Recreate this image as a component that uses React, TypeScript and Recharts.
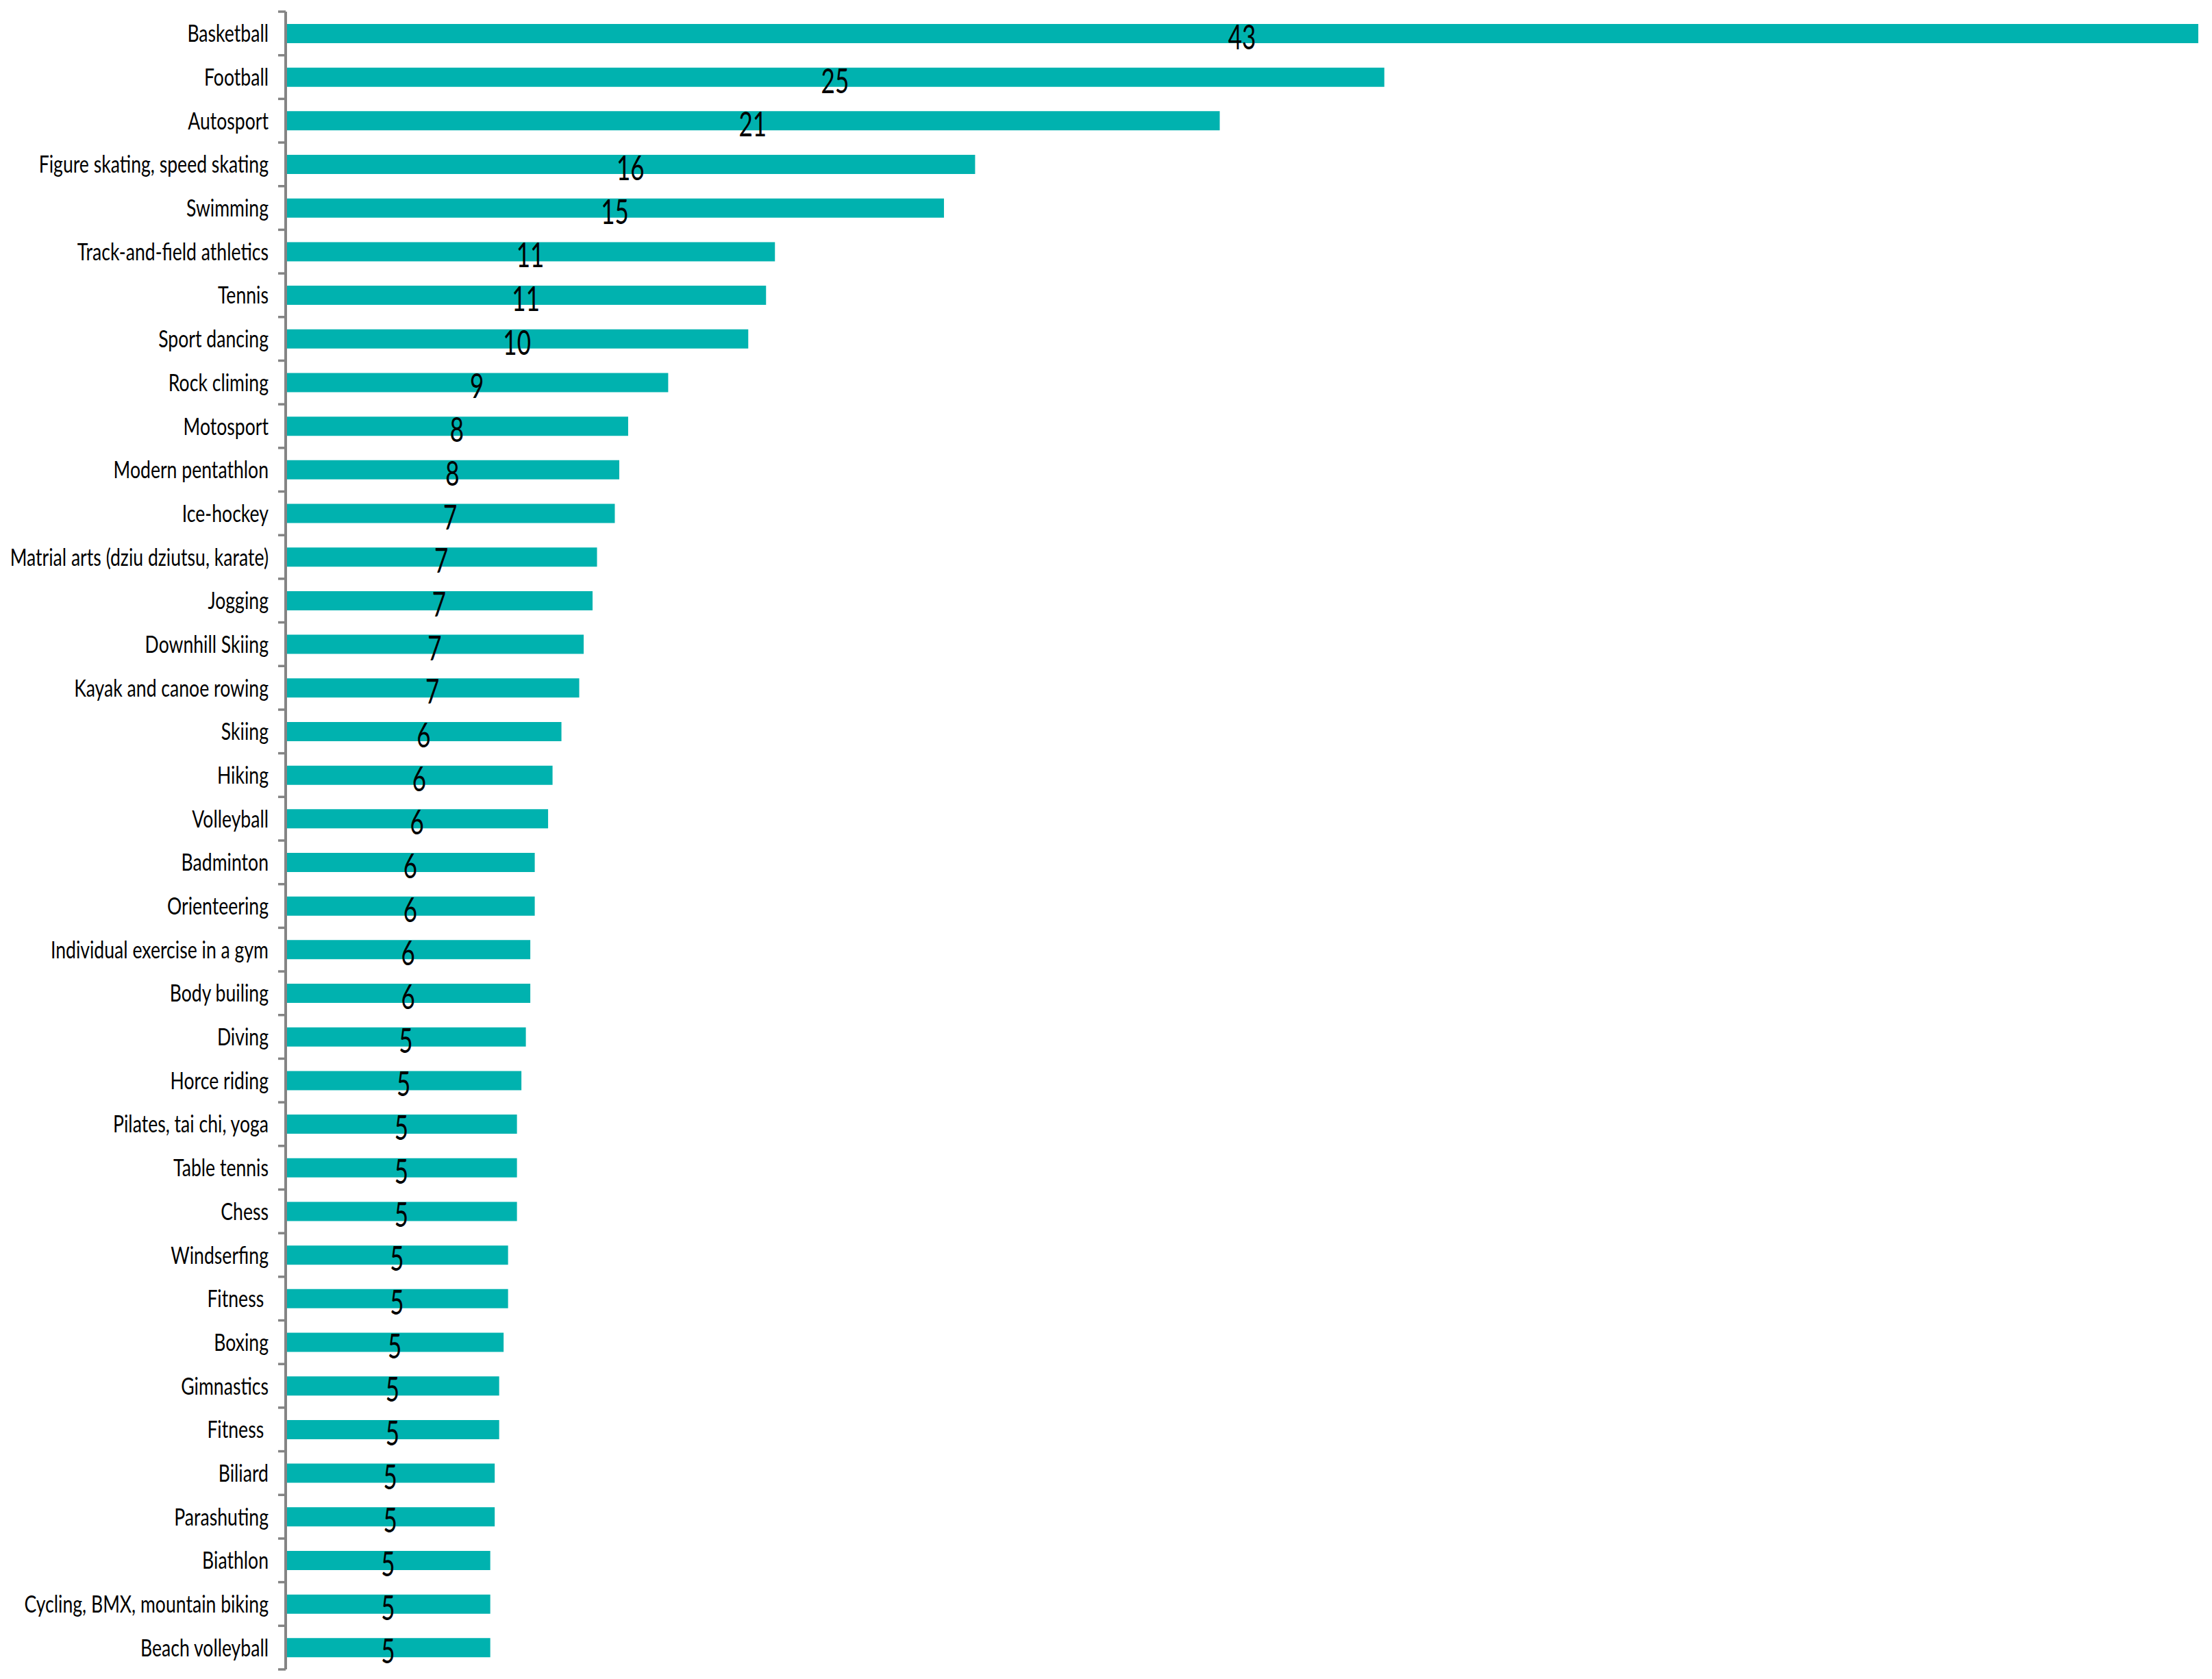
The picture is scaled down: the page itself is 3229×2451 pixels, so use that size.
import { Bar, BarChart, LabelList, XAxis, YAxis } from "recharts";

const sports = [
  "Basketball",
  "Football",
  "Autosport",
  "Figure skating, speed skating",
  "Swimming",
  "Track-and-field athletics",
  "Tennis",
  "Sport dancing",
  "Rock climing",
  "Motosport",
  "Modern pentathlon",
  "Ice-hockey",
  "Matrial arts (dziu dziutsu, karate)",
  "Jogging",
  "Downhill Skiing",
  "Kayak and canoe rowing",
  "Skiing",
  "Hiking",
  "Volleyball",
  "Badminton",
  "Orienteering",
  "Individual exercise in a gym",
  "Body builing",
  "Diving",
  "Horce riding",
  "Pilates, tai chi, yoga",
  "Table tennis",
  "Chess",
  "Windserfing",
  "Fitness\u00a0",
  "Boxing",
  "Gimnastics",
  "Fitness\u00a0",
  "Biliard",
  "Parashuting",
  "Biathlon",
  "Cycling, BMX, mountain biking",
  "Beach volleyball",
];

// bar lengths
const shares = [
  43.0, 24.7, 21.0, 15.5, 14.8, 11.0, 10.8, 10.4, 8.6, 7.7, 7.5, 7.4, 7.0, 6.9,
  6.7, 6.6, 6.2, 6.0, 5.9, 5.6, 5.6, 5.5, 5.5, 5.4, 5.3, 5.2, 5.2, 5.2, 5.0,
  5.0, 4.9, 4.8, 4.8, 4.7, 4.7, 4.6, 4.6, 4.6,
];

// printed value labels
const shownLabels = [
  "43", "25", "21", "16", "15", "11", "11", "10", "9", "8", "8", "7", "7", "7",
  "7", "7", "6", "6", "6", "6", "6", "6", "6", "5", "5", "5", "5", "5", "5",
  "5", "5", "5", "5", "5", "5", "5", "5", "5",
];

const xDomain = [0, 43];

const data = sports.map((name, i) => ({
  idx: i,
  name,
  value: shares[i],
  label: shownLabels[i],
}));

const WIDTH = 3213;
const HEIGHT = 2435;
const MARGIN = { top: 9, right: 12, bottom: 6, left: 0 };
const AXIS_W = 409;
const BAND = (HEIGHT - MARGIN.top - MARGIN.bottom) / sports.length;
const FONT = "Lato, 'Open Sans', sans-serif";
const AXIS_GREY = "#848484";

function CategoryTick(props: any) {
  const { x, y, payload, index } = props;
  const axisX = x + 25;
  const last = index === sports.length - 1;
  return (
    <g>
      <line x1={axisX - 11} x2={axisX} y1={y - BAND / 2} y2={y - BAND / 2} stroke={AXIS_GREY} strokeWidth={3.5} />
      {last && (
        <line x1={axisX - 11} x2={axisX} y1={y + BAND / 2} y2={y + BAND / 2} stroke={AXIS_GREY} strokeWidth={3.5} />
      )}
      <text
        transform={`translate(${x}, ${y + 12.5}) scale(0.76, 1)`}
        textAnchor="end"
        fontFamily={FONT}
        fontSize={35}
        fill="#000"
      >
        {sports[payload.value]}
      </text>
    </g>
  );
}

function ValueLabel(props: any) {
  const { x, y, width, height, index } = props;
  const cx = x + width / 2;
  const base = y + height / 2 + 23;
  return (
    <text
      transform={`translate(${cx}, ${base}) scale(0.7, 1)`}
      textAnchor="middle"
      fontFamily={FONT}
      fontSize={50}
      fill="#000"
    >
      {shownLabels[index]}
    </text>
  );
}

export default function App() {
  return (
    <BarChart
      width={WIDTH}
      height={HEIGHT}
      data={data}
      layout="vertical"
      margin={MARGIN}
    >
      <XAxis type="number" domain={xDomain} hide />
      <YAxis
        type="category"
        dataKey="idx"
        width={AXIS_W}
        axisLine={{ stroke: AXIS_GREY, strokeWidth: 4 }}
        tickLine={false}
        tickSize={0}
        tickMargin={25}
        interval={0}
        tick={<CategoryTick />}
      />
      <Bar dataKey="value" fill="#00B2AF" barSize={28} isAnimationActive={false}>
        <LabelList dataKey="label" content={<ValueLabel />} />
      </Bar>
    </BarChart>
  );
}
